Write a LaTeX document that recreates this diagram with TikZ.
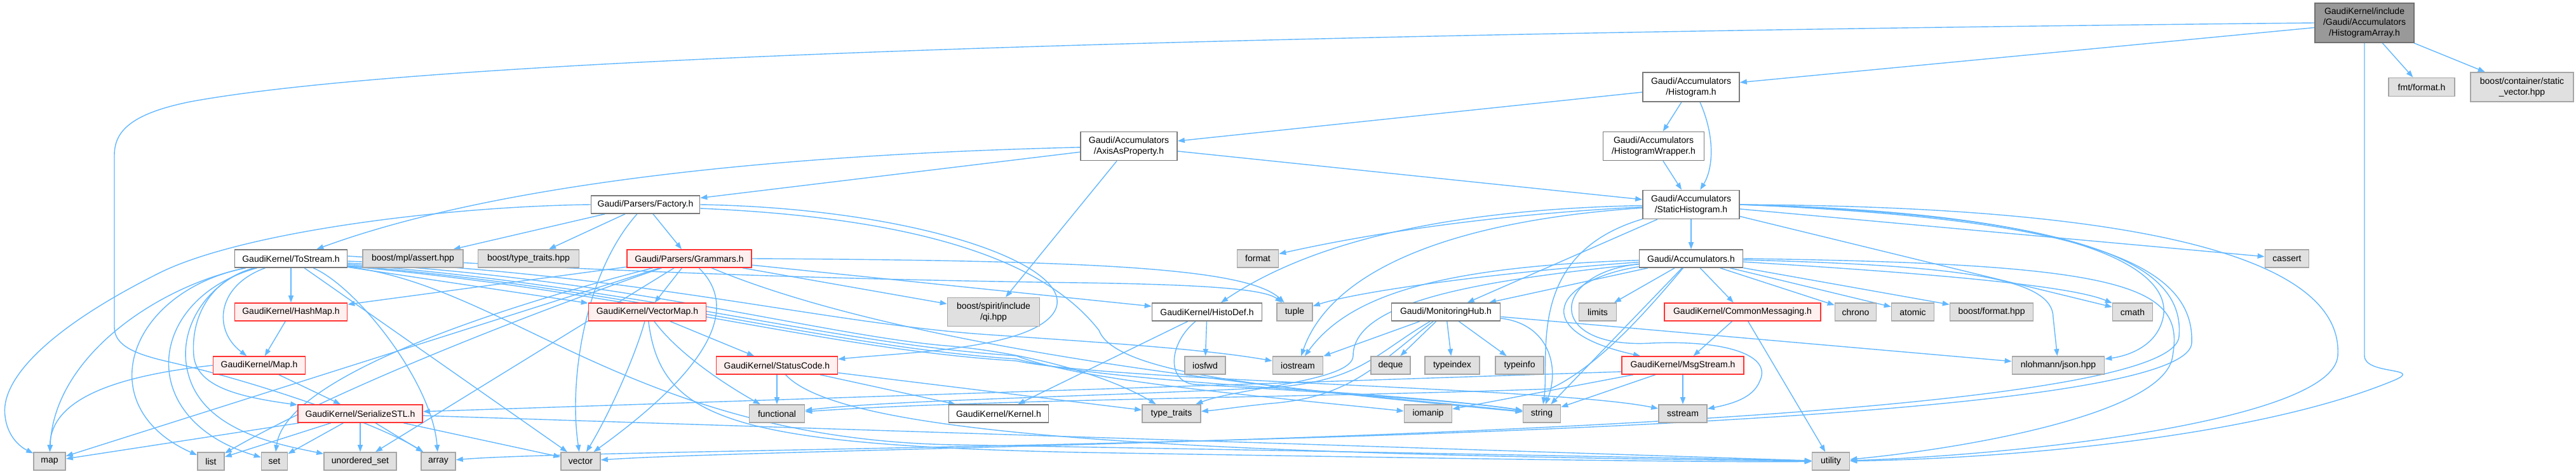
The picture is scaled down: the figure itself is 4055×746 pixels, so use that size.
\documentclass[tikz,border=0pt]{standalone}
\usepackage{fontspec}
\setmainfont{Liberation Sans}
\usetikzlibrary{arrows.meta,backgrounds}
\definecolor{edgec}{HTML}{63B8FF}
\definecolor{wbord}{HTML}{7A7A7A}
\definecolor{gfill}{HTML}{E0E0E0}
\definecolor{gbord}{HTML}{A6A6A6}
\definecolor{rfill}{HTML}{FFF0F0}
\definecolor{rbord}{HTML}{FF3333}
\definecolor{hfill}{HTML}{999999}
\definecolor{hbord}{HTML}{707070}
\begin{document}
\begin{tikzpicture}[x=1pt,y=-1pt,
  base/.style={rectangle, inner sep=0pt, minimum height=28pt, align=center, line width=1.6pt, font=\fontsize{14}{17}\selectfont},
  wn/.style={base, fill=white, draw=wbord},
  gn/.style={base, fill=gfill, draw=gbord},
  rn/.style={base, fill=rfill, draw=rbord},
  hn/.style={base, fill=hfill, draw=hbord},
  dep/.style={draw=edgec, line width=1.4pt, -{Triangle[length=11pt,width=8pt]}},
]
\useasboundingbox (0,0) rectangle (4055,746);
% ---------- nodes ----------
\node[hn, minimum width=156, minimum height=62] (HA) at (3722,36) {GaudiKernel/include\\/Gaudi/Accumulators\\/HistogramArray.h};
\node[wn, minimum width=152, minimum height=46] (H) at (2662,137) {Gaudi/Accumulators\\/Histogram.h};
\node[gn, minimum width=104, minimum height=29] (fmt) at (3812,137) {fmt/format.h};
\node[gn, minimum width=162, minimum height=46] (bcsv) at (3970,137) {boost/container/static\\\_vector.hpp};
\node[wn, minimum width=152, minimum height=45] (AAP) at (1777,230) {Gaudi/Accumulators\\/AxisAsProperty.h};
\node[wn, minimum width=159, minimum height=45] (HW) at (2603,230) {Gaudi/Accumulators\\/HistogramWrapper.h};
\node[wn, minimum width=152, minimum height=45] (SH) at (2662,322) {Gaudi/Accumulators\\/StaticHistogram.h};
\node[wn, minimum width=171] (Fac) at (1016,322) {Gaudi/Parsers/Factory.h};
% row 407
\node[wn, minimum width=177] (TS) at (458,407) {GaudiKernel/ToStream.h};
\node[gn, minimum width=158] (mpl) at (650,407) {boost/mpl/assert.hpp};
\node[gn, minimum width=159] (btt) at (832,407) {boost/type\_traits.hpp};
\node[rn, minimum width=196] (Gram) at (1085,407) {Gaudi/Parsers/Grammars.h};
\node[gn, minimum width=65] (nformat) at (1980,407) {format};
\node[wn, minimum width=163] (Acc) at (2662,407) {Gaudi/Accumulators.h};
\node[gn, minimum width=69] (ncassert) at (3600,407) {cassert};
% row 491
\node[rn, minimum width=177] (HashMap) at (458,491) {GaudiKernel/HashMap.h};
\node[rn, minimum width=185] (VectorMap) at (1019,491) {GaudiKernel/VectorMap.h};
\node[gn, minimum width=145, minimum height=45] (qi) at (1564,491) {boost/spirit/include\\/qi.hpp};
\node[wn, minimum width=173] (HistoDef) at (1900,491) {GaudiKernel/HistoDef.h};
\node[gn, minimum width=56] (ntuple) at (2038,491) {tuple};
\node[wn, minimum width=171] (MHub) at (2276,491) {Gaudi/MonitoringHub.h};
\node[gn, minimum width=59] (nlimits) at (2515,491) {limits};
\node[rn, minimum width=246] (CM) at (2743,491) {GaudiKernel/CommonMessaging.h};
\node[gn, minimum width=65] (nchrono) at (2921,491) {chrono};
\node[gn, minimum width=67] (natomic) at (3011,491) {atomic};
\node[gn, minimum width=131] (bfmt) at (3135,491) {boost/format.hpp};
\node[gn, minimum width=63] (ncmath) at (3357,491) {cmath};
% row 575
\node[rn, minimum width=145] (Map) at (408,575) {GaudiKernel/Map.h};
\node[rn, minimum width=191] (StatusCode) at (1223,575) {GaudiKernel/StatusCode.h};
\node[gn, minimum width=64] (niosfwd) at (1897,575) {iosfwd};
\node[gn, minimum width=79] (niostream) at (2043,575) {iostream};
\node[gn, minimum width=62] (ndeque) at (2189,575) {deque};
\node[gn, minimum width=86] (ntypeindex) at (2286,575) {typeindex};
\node[gn, minimum width=76] (ntypeinfo) at (2392,575) {typeinfo};
\node[rn, minimum width=192] (MsgStream) at (2649,575) {GaudiKernel/MsgStream.h};
\node[gn, minimum width=145] (json) at (3240,575) {nlohmann/json.hpp};
% row 651
\node[rn, minimum width=196] (SSTL) at (567,651) {GaudiKernel/SerializeSTL.h};
\node[gn, minimum width=87] (nfunctional) at (1223,651) {functional};
\node[wn, minimum width=157] (Kernel) at (1572,651) {GaudiKernel/Kernel.h};
\node[gn, minimum width=92] (ntt) at (1844,651) {type\_traits};
\node[gn, minimum width=75] (niomanip) at (2248,651) {iomanip};
\node[gn, minimum width=59] (nstring) at (2427,651) {string};
\node[gn, minimum width=76] (nsstream) at (2649,651) {sstream};
% row 726
\node[gn, minimum width=50] (nmap) at (78,726) {map};
\node[gn, minimum width=42] (nlist) at (332,726) {list};
\node[gn, minimum width=41] (nset) at (432,726) {set};
\node[gn, minimum width=114] (nuset) at (567,726) {unordered\_set};
\node[gn, minimum width=54] (narray) at (690,726) {array};
\node[gn, minimum width=62] (nvector) at (914,726) {vector};
\node[gn, minimum width=59] (nutility) at (2882,726) {utility};
% ---------- edges ----------
\begin{scope}[on background layer]
\fill[white] (0,0) rectangle (4055,746);
% HistogramArray
\draw[dep] (HA) -- (H);
\draw[dep] (HA) -- (fmt);
\draw[dep] (HA) -- (bcsv);
\draw[dep] (HA.south) -- (3722,560) .. controls (3722,590) and (3815,578) .. (3770,598) .. controls (3550,690) and (3150,722) .. (nutility);
\draw[dep] (HA.west) .. controls (1500,58) and (600,105) .. (300,160) .. controls (200,180) and (180,210) .. (180,245) -- (180,515) .. controls (180,545) and (215,558) .. (268,570) .. controls (420,605) and (600,670) .. (narray);
% Histogram
\draw[dep] (H) -- (AAP);
\draw[dep] (H) -- (HW);
\draw[dep] ([xshift=14pt]H.south) .. controls (2700,215) and (2697,265) .. (SH);
\draw[dep] (HW) -- (SH);
% AxisAsProperty
\draw[dep] (AAP) -- (Fac);
\draw[dep] (AAP) .. controls (1150,245) and (750,300) .. (TS);
\draw[dep] (AAP) -- (qi);
\draw[dep] (AAP) -- (SH);
% Factory
\draw[dep] (Fac) -- (mpl);
\draw[dep] (Fac) -- (btt);
\draw[dep] (Fac) -- (Gram);
\draw[dep] (Fac) .. controls (920,430) and (895,600) .. (nvector);
\draw[dep] (Fac.west) .. controls (700,325) and (380,365) .. (250,430) .. controls (70,520) and (0,600) .. (8,655) .. controls (12,690) and (35,705) .. (nmap);
\draw[dep] (Fac.east) .. controls (1450,328) and (1700,420) .. (1660,490) .. controls (1625,550) and (1420,555) .. (StatusCode);
\draw[dep] ([yshift=-6pt]Fac.east) .. controls (1500,345) and (1660,430) .. (1730,520) .. controls (1760,600) and (2100,615) .. (nstring);
% Grammars
\draw[dep] (Gram) -- (HashMap);
\draw[dep] (Gram) -- (VectorMap);
\draw[dep] (Gram) -- (qi);
\draw[dep] (Gram) -- (HistoDef);
\draw[dep] (Gram.east) .. controls (1700,410) and (1960,420) .. (ntuple);
\draw[dep] (Gram) -- (nmap);
\draw[dep] (Gram) .. controls (900,470) and (550,600) .. (nlist);
\draw[dep] (Gram) .. controls (800,480) and (450,590) .. (nset);
\draw[dep] (Gram) -- (nuset);
\draw[dep] (Gram) .. controls (1160,480) and (1130,570) .. (nvector);
\draw[dep] (Gram) .. controls (1450,560) and (2100,620) .. (nstring);
% ToStream
\draw[dep] (TS) -- (HashMap);
\draw[dep] (TS) .. controls (340,450) and (335,520) .. (Map);
\draw[dep] (TS) .. controls (330,440) and (300,500) .. (305,560) .. controls (310,610) and (380,625) .. (SSTL);
\draw[dep] (TS) -- (VectorMap);
\draw[dep] (TS) .. controls (250,450) and (85,560) .. (nmap);
\draw[dep] (TS) .. controls (200,460) and (140,640) .. (nlist);
\draw[dep] (TS) .. controls (230,470) and (210,660) .. (nset);
\draw[dep] (TS) .. controls (330,440) and (270,520) .. (300,600) .. controls (330,680) and (440,700) .. (nuset);
\draw[dep] (TS) .. controls (560,450) and (680,600) .. (narray);
\draw[dep] (TS) -- (nvector);
\draw[dep] ([yshift=4pt]TS.east) .. controls (900,425) and (1300,440) .. (1700,445) .. controls (1900,448) and (1990,455) .. (ntuple);
\draw[dep] ([yshift=-4pt]TS.east) .. controls (1000,430) and (1300,510) .. (1560,527) .. controls (1750,540) and (1900,550) .. (niostream);
\draw[dep] ([yshift=-7pt]TS.east) .. controls (1000,440) and (1300,530) .. (1500,545) .. controls (1650,560) and (1760,600) .. (ntt);
\draw[dep] ([yshift=-9pt]TS.east) .. controls (1000,450) and (1300,540) .. (1600,560) .. controls (1700,600) and (2000,625) .. (niomanip);
\draw[dep] ([yshift=-11pt]TS.east) .. controls (1000,455) and (1300,545) .. (1600,565) .. controls (1750,605) and (2200,615) .. (nstring);
\draw[dep] ([yshift=-12pt]TS.east) .. controls (1000,460) and (1300,550) .. (1600,568) .. controls (1750,600) and (2450,610) .. (nsstream);
\draw[dep] ([yshift=-13pt]TS.east) .. controls (800,450) and (1000,690) .. (1500,700) .. controls (2200,712) and (2700,722) .. (nutility);
% HashMap, Map, SerializeSTL
\draw[dep] (HashMap) -- (Map);
\draw[dep] (Map.west) .. controls (150,595) and (80,640) .. (nmap);
\draw[dep] (Map) -- (SSTL);
\draw[dep] (SSTL) -- (nmap);
\draw[dep] (SSTL) -- (nlist);
\draw[dep] (SSTL) -- (nset);
\draw[dep] (SSTL) -- (nuset);
\draw[dep] (SSTL) -- (narray);
\draw[dep] (SSTL) -- (nvector);
\draw[dep] (SSTL) -- (nutility);
% VectorMap
\draw[dep] (VectorMap) -- (StatusCode);
\draw[dep] (VectorMap) .. controls (1070,560) and (1150,610) .. (nfunctional);
\draw[dep] (VectorMap) .. controls (1000,560) and (960,650) .. (nvector);
\draw[dep] (VectorMap) .. controls (1040,660) and (1150,700) .. (1700,712) .. controls (2300,722) and (2700,728) .. (nutility);
% StatusCode
\draw[dep] (StatusCode) -- (nfunctional);
\draw[dep] (StatusCode) -- (Kernel);
\draw[dep] (StatusCode) -- (ntt);
\draw[dep] (StatusCode) .. controls (1320,680) and (1800,715) .. (nutility);
% HistoDef
\draw[dep] (HistoDef) -- (Kernel);
\draw[dep] (HistoDef) -- (niosfwd);
\draw[dep] (HistoDef) .. controls (1840,540) and (1835,600) .. (1880,605) .. controls (2000,612) and (2300,630) .. (nstring);
% MonitoringHub
\draw[dep] (MHub) -- (niostream);
\draw[dep] (MHub) -- (ndeque);
\draw[dep] (MHub) -- (ntypeindex);
\draw[dep] (MHub) -- (ntypeinfo);
\draw[dep] (MHub) .. controls (2440,510) and (2455,580) .. (nstring);
\draw[dep] (MHub) -- (json);
\draw[dep] (MHub) .. controls (2160,560) and (2140,600) .. (2000,610) .. controls (1700,625) and (1400,630) .. (nfunctional);
\draw[dep] (MHub) .. controls (2170,570) and (2130,625) .. (2000,635) .. controls (1950,640) and (1920,645) .. (ntt);
% CommonMessaging, MsgStream
\draw[dep] (CM) -- (MsgStream);
\draw[dep] (CM) -- (nutility);
\draw[dep] ([yshift=-10pt]MsgStream.west) -- (SSTL);
\draw[dep] (MsgStream) -- (niomanip);
\draw[dep] (MsgStream) -- (nstring);
\draw[dep] (MsgStream) -- (nsstream);
% Accumulators
\draw[dep] (Acc) -- (MHub);
\draw[dep] (Acc) .. controls (2400,425) and (2150,455) .. (ntuple);
\draw[dep] (Acc) -- (nlimits);
\draw[dep] (Acc) -- (CM);
\draw[dep] (Acc) -- (nchrono);
\draw[dep] (Acc) -- (natomic);
\draw[dep] (Acc) -- (bfmt);
\draw[dep] (Acc) .. controls (2950,425) and (3250,445) .. (ncmath);
\draw[dep] (Acc) .. controls (3100,418) and (3232,440) .. (3232,500) -- (json);
\draw[dep] (Acc) .. controls (2450,440) and (2400,520) .. (MsgStream);
\draw[dep] (Acc) .. controls (2250,420) and (2120,470) .. (niostream);
\draw[dep] (Acc) -- (nstring);
\draw[dep] (Acc) .. controls (2600,480) and (2520,575) .. (2440,612) .. controls (2100,625) and (1550,628) .. (nfunctional);
\draw[dep] (Acc) .. controls (2440,430) and (2430,550) .. (2600,540) .. controls (2720,535) and (2790,560) .. (2770,600) .. controls (2760,625) and (2730,635) .. (nsstream);
\draw[dep] (Acc) .. controls (2350,440) and (2130,470) .. (2130,560) .. controls (2130,600) and (1950,610) .. (ntt);
\draw[dep] (Acc.east) .. controls (3350,415) and (3440,450) .. (3420,560) .. controls (3410,650) and (3100,705) .. (nutility);
% StaticHistogram
\draw[dep] (SH) -- (Acc);
\draw[dep] (SH) -- (MHub);
\draw[dep] (SH) .. controls (2300,340) and (2100,380) .. (nformat);
\draw[dep] (SH) .. controls (2250,330) and (2050,390) .. (HistoDef);
\draw[dep] (SH) .. controls (2250,350) and (2090,440) .. (niostream);
\draw[dep] (SH) .. controls (2400,400) and (2440,560) .. (nstring);
\draw[dep] (SH) -- (ncassert);
\draw[dep] (SH) -- (ncmath);
\draw[dep] (SH.east) .. controls (3300,335) and (3420,430) .. (3405,500) .. controls (3395,545) and (3350,560) .. (json);
\draw[dep] (SH.east) .. controls (3300,340) and (3440,420) .. (3430,530) .. controls (3415,690) and (1300,700) .. (nvector);
\draw[dep] (SH.east) .. controls (3300,345) and (3455,420) .. (3450,540) .. controls (3440,705) and (1000,700) .. (narray);
\draw[dep] (SH.east) .. controls (3350,325) and (3690,400) .. (3680,560) .. controls (3672,660) and (3200,715) .. (nutility);
\end{scope}
\end{tikzpicture}
\end{document}
